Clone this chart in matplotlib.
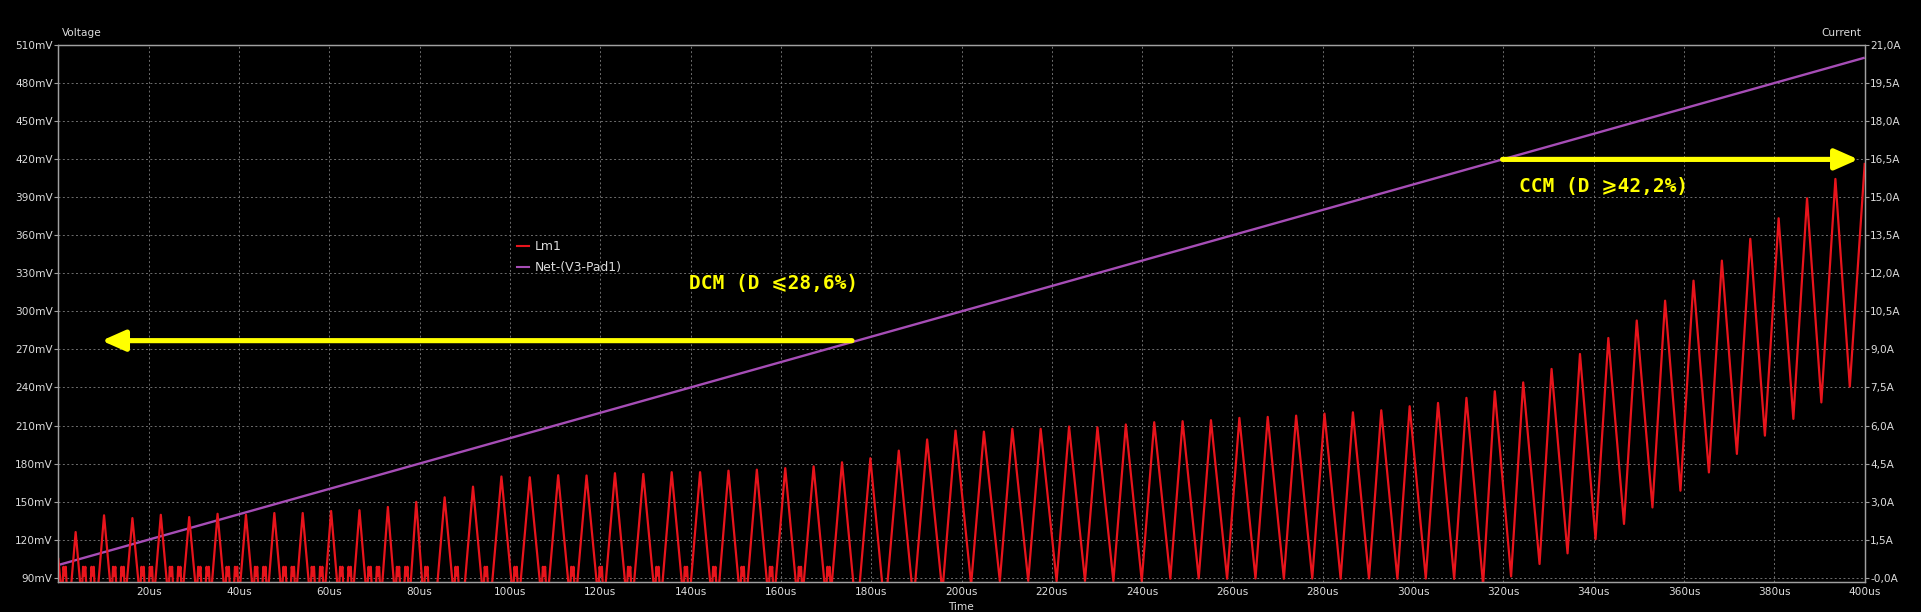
import matplotlib
matplotlib.use("Agg")
import matplotlib.pyplot as plt
from matplotlib.patches import FancyArrowPatch
from matplotlib.lines import Line2D

# ---------------- data ----------------
time_ticks_us = [20, 40, 60, 80, 100, 120, 140, 160, 180, 200, 220, 240, 260, 280, 300, 320, 340, 360, 380, 400]
time_tick_labels = ["20us", "40us", "60us", "80us", "100us", "120us", "140us", "160us", "180us", "200us",
                    "220us", "240us", "260us", "280us", "300us", "320us", "340us", "360us", "380us", "400us"]
voltage_ticks_mV = [90, 120, 150, 180, 210, 240, 270, 300, 330, 360, 390, 420, 450, 480, 510]
voltage_tick_labels = ["90mV", "120mV", "150mV", "180mV", "210mV", "240mV", "270mV", "300mV", "330mV",
                       "360mV", "390mV", "420mV", "450mV", "480mV", "510mV"]
current_ticks_A = [0, 1.5, 3, 4.5, 6, 7.5, 9, 10.5, 12, 13.5, 15, 16.5, 18, 19.5, 21]
current_tick_labels = ["-0,0A", "1,5A", "3,0A", "4,5A", "6,0A", "7,5A", "9,0A", "10,5A", "12,0A",
                       "13,5A", "15,0A", "16,5A", "18,0A", "19,5A", "21,0A"]

# Net-(V3-Pad1) voltage (linear ramp)
net_t_us = [0, 400]
net_mV = [100, 500]

# Lm1 current: per switching cycle peak time and peak current
peak_t_us = [3.84, 10.13, 16.41, 22.70, 28.98, 35.27, 41.55, 47.84, 54.12, 60.41,
             66.69, 72.98, 79.26, 85.55, 91.83, 98.12, 104.40, 110.69, 116.97, 123.26,
             129.54, 135.83, 142.11, 148.40, 154.68, 160.97, 167.25, 173.54, 179.82, 186.11,
             192.39, 198.68, 204.96, 211.25, 217.53, 223.82, 230.10, 236.39, 242.67, 248.96,
             255.24, 261.53, 267.81, 274.10, 280.38, 286.67, 292.95, 299.24, 305.52, 311.81,
             318.09, 324.38, 330.66, 336.95, 343.23, 349.52, 355.80, 362.09, 368.37, 374.66,
             380.94, 387.23, 393.51]
peak_A = [1.80, 2.46, 2.35, 2.48, 2.39, 2.52, 2.48, 2.55, 2.55, 2.63,
          2.66, 2.79, 2.99, 3.17, 3.59, 3.99, 3.96, 4.04, 4.03, 4.12,
          4.09, 4.16, 4.16, 4.22, 4.26, 4.32, 4.39, 4.55, 4.71, 5.01,
          5.45, 5.80, 5.76, 5.87, 5.87, 5.96, 5.93, 6.04, 6.13, 6.17,
          6.21, 6.30, 6.34, 6.39, 6.47, 6.52, 6.60, 6.76, 6.89, 7.09,
          7.35, 7.70, 8.23, 8.82, 9.45, 10.14, 10.92, 11.71, 12.50, 13.36,
          14.17, 14.96, 15.72]
# DCM part: rise time (0 A -> peak) and fall time (peak -> 0 A) of each cycle
dcm_rise_us = [0.85, 1.15, 1.15, 1.15, 1.15, 1.15, 1.15, 1.15, 1.15, 1.15,
               1.15, 1.15, 1.15, 1.50, 1.70, 1.95, 1.95, 1.95, 1.95, 1.95,
               1.95, 1.95, 1.95, 1.95, 1.95, 2.05, 2.10, 2.15, 2.25, 2.40,
               2.55, 2.65, 2.70, 2.70, 2.70, 2.70, 2.70, 2.70, 2.70, 2.70,
               2.70, 2.70, 2.70, 2.70, 2.70, 2.70, 2.70, 2.70, 2.70, 2.70,
               2.50]
dcm_fall_us = [0.90, 1.25, 1.25, 1.25, 1.25, 1.25, 1.25, 1.25, 1.25, 1.25,
               1.25, 1.25, 1.25, 1.65, 1.85, 2.15, 2.15, 2.15, 2.15, 2.15,
               2.15, 2.15, 2.15, 2.15, 2.15, 2.25, 2.30, 2.40, 2.50, 2.75,
               3.05, 3.30, 3.45, 3.45, 3.45, 3.45, 3.45, 3.45, 3.55, 3.55,
               3.55, 3.55, 3.55, 3.55, 3.55, 3.55, 3.55, 3.55, 3.55, 3.55]
# CCM part: valleys after the last peaks
ccm_valley_t_us = [321.7, 328.0, 334.2, 340.4, 346.7, 353.0, 359.2, 365.5, 371.7, 377.9, 384.2, 390.4, 396.7]
ccm_valley_A = [0.05, 0.54, 0.96, 1.52, 2.12, 2.77, 3.43, 4.15, 4.88, 5.60, 6.26, 6.91, 7.53]
start_A = 0.74
start_fall_us = 0.40
end_t_us, end_A = 400.0, 16.31
ring_peak_A = 0.43

# ---------------- build the Lm1 trace ----------------
t_pts = [0.0]
i_pts = [start_A]
tzf, fs = start_fall_us, start_A / start_fall_us
n_dcm = len(dcm_rise_us)
for k in range(n_dcm):
    rs = peak_A[k] / dcm_rise_us[k]
    tzr = peak_t_us[k] - dcm_rise_us[k]
    gap = tzr - tzf
    if gap >= 1.2:
        t_pts.append(tzf + 0.5 / fs); i_pts.append(-0.5)
        c = tzf + 1.0
        while c + 0.5 <= tzr - 0.5 / rs:
            t_pts += [c - 0.5, c - 0.25, c, c + 0.25, c + 0.5]
            i_pts += [-0.5, ring_peak_A, 0.08, ring_peak_A, -0.5]
            c += 1.85
        t_pts.append(tzr - 0.5 / rs); i_pts.append(-0.5)
    else:
        tv = (fs * tzf + rs * tzr) / (fs + rs)
        t_pts.append(tv); i_pts.append(-fs * (tv - tzf))
    t_pts.append(peak_t_us[k]); i_pts.append(peak_A[k])
    if k < len(dcm_fall_us):
        tzf = peak_t_us[k] + dcm_fall_us[k]
        fs = peak_A[k] / dcm_fall_us[k]
for j in range(len(ccm_valley_t_us)):
    t_pts.append(ccm_valley_t_us[j]); i_pts.append(ccm_valley_A[j])
    k = n_dcm + j
    if k < len(peak_t_us):
        t_pts.append(peak_t_us[k]); i_pts.append(peak_A[k])
t_pts.append(end_t_us); i_pts.append(end_A)

# ---------------- figure ----------------
BG = "#000000"
TXT = "#dcdcdc"
SPINE = "#a0a0a0"
GRID = "#6e6e6e"
RED = "#e8141c"
PURPLE = "#a64db6"
YELLOW = "#ffff00"

plt.rcParams["font.family"] = ["DejaVu Sans"]
fig = plt.figure(figsize=(19.21, 6.12), dpi=100, facecolor=BG)
ax = fig.add_axes([58.3 / 1921, 30.3 / 612, (1864.7 - 58.3) / 1921, (581.7 - 45) / 612])
ax.set_facecolor(BG)
ax2 = ax.twinx()

v_lo, v_hi = 86.85, 510.0
ax.set_xlim(0, 400)
ax.set_ylim(v_lo, v_hi)
ax2.set_ylim((v_lo - 90) / 20, (v_hi - 90) / 20)

ax.set_xticks(time_ticks_us, time_tick_labels)
ax.set_yticks(voltage_ticks_mV, voltage_tick_labels)
ax2.set_yticks(current_ticks_A, current_tick_labels)

for a in (ax, ax2):
    for s in a.spines.values():
        s.set_color(SPINE)
        s.set_linewidth(0.9)
ax.tick_params(axis="y", direction="out", length=3, width=0.8, color=SPINE, labelcolor=TXT,
               labelsize=7.6, pad=1)
ax.tick_params(axis="x", length=0, labelcolor=TXT, labelsize=7.6, pad=4)
ax2.tick_params(axis="y", direction="out", length=3, width=0.8, color=SPINE, labelcolor=TXT,
                labelsize=7.6, pad=1)

ax.grid(True, color=GRID, linestyle=(0, (2, 2.5)), linewidth=0.7)

ax.plot(net_t_us, net_mV, color=PURPLE, linewidth=1.7, solid_capstyle="butt", zorder=3)
ax2.plot(t_pts, i_pts, color=RED, linewidth=1.6, zorder=2)

handles = [Line2D([], [], color=RED, linewidth=1.5), Line2D([], [], color=PURPLE, linewidth=1.5)]
ax2.legend(handles, ["Lm1", "Net-(V3-Pad1)"], loc="upper left", bbox_to_anchor=(0.254, 0.636),
           frameon=False, fontsize=8.9, labelcolor=TXT, handlelength=1.0, handletextpad=0.4,
           borderpad=0, borderaxespad=0, labelspacing=0.62)

fig.text(62 / 1921, 1 - 33.3 / 612, "Voltage", ha="left", va="center", fontsize=7.6, color=TXT)
fig.text(1861 / 1921, 1 - 33.3 / 612, "Current", ha="right", va="center", fontsize=7.6, color=TXT)
fig.text(961 / 1921, 1 - 601.5 / 612, "Time", ha="center", va="top", fontsize=7.6, color=TXT)

# annotations
arrow_kw = dict(arrowstyle="-|>,head_length=1.4,head_width=0.62", mutation_scale=10,
                color=YELLOW, linewidth=3.7, capstyle="round", joinstyle="round",
                shrinkA=0, shrinkB=0, zorder=6)
ax.add_patch(FancyArrowPatch((175.75, 276.9), (9.6, 276.9), **arrow_kw))
ax.add_patch(FancyArrowPatch((319.8, 419.8), (398.6, 419.8), **arrow_kw))
mono = ["DejaVu Sans Mono", "DejaVu Sans"]
ax.text(139.7, 322.1, "DCM (D\u2009\u2a7d28,6%)", ha="left", va="center", fontsize=14,
        fontweight="bold", color=YELLOW, family=mono, zorder=6)
ax.text(323.4, 398.8, "CCM (D\u2009\u2a7e42,2%)", ha="left", va="center", fontsize=14,
        fontweight="bold", color=YELLOW, family=mono, zorder=6)

fig.savefig("out.png", dpi=100, facecolor=BG)
